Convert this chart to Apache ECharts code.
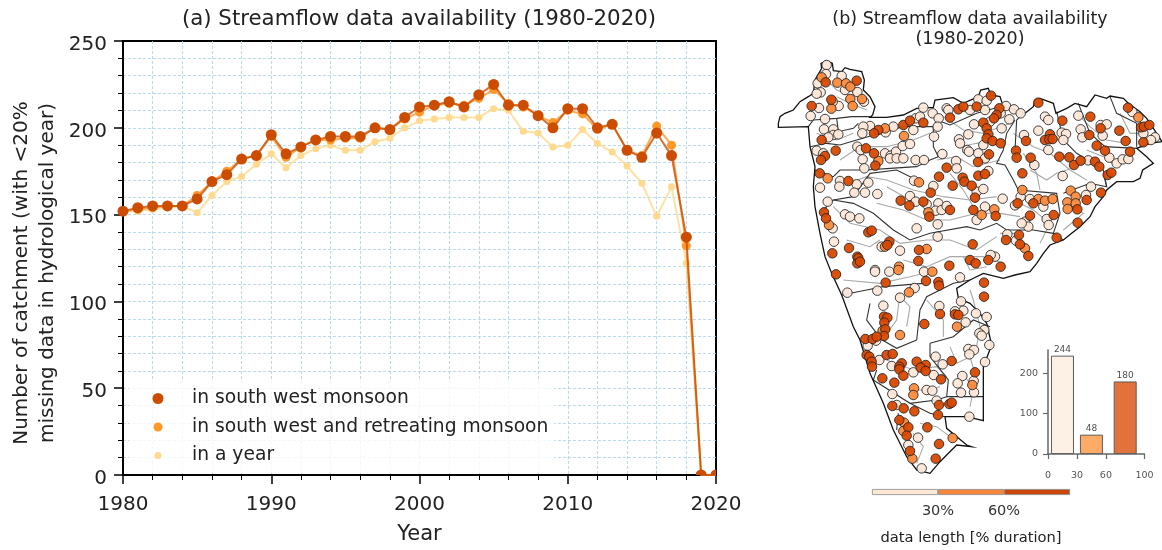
<!DOCTYPE html>
<html><head><meta charset="utf-8">
<style>html,body{margin:0;padding:0;background:#fff}#c{width:1162px;height:550px}</style>
<script src="https://cdn.jsdelivr.net/npm/echarts@6/dist/echarts.min.js"></script>
</head><body><div id="c"></div>
<script>
const years=[1980,1981,1982,1983,1984,1985,1986,1987,1988,1989,1990,1991,1992,1993,1994,1995,1996,1997,1998,1999,2000,2001,2002,2003,2004,2005,2006,2007,2008,2009,2010,2011,2012,2013,2014,2015,2016,2017,2018,2019,2020];
const swMonsoon=[152,154,155,155,155,159,169,173,182,184,196,185,189,193,195,195,195,200,199,206,212,213,215,212,219,225,213,213,207,200,211,211,200,202,187,183,197,184,137,0,0];
const swRetreating=[152,153,154,155,155,161,169,175,182,184,195,183,189,193,193,194,194,200,199,205,209,213,214,213,217,222,214,212,207,203,210,208,199,202,187,184,201,190,132,0,0];
const inYear=[152,152,153,154,155,151,161,169,172,179,185,177,184,188,190,187,187,192,194,200,204,205,206,206,206,211,210,198,197,189,190,199,191,186,178,168,149,166,122,0,0];

// Gauge positions (map units; southern lists have their own origin)
const gaugesLowNorth=[[170,195],[168,222],[143,250],[215,228],[262,276],[152,277],[140,281],[282,305],[206,318],[147,324],[122,348],[165,357],[188,305],[225,270],[162,388],[190,388],[190,405],[205,403],[175,412],[140,452],[160,460],[210,543],[208,560],[260,553],[295,548],[150,563],[253,578],[285,578],[322,582],[173,605],[188,685],[192,725],[225,643],[240,650],[268,655],[335,740],[390,752],[300,378],[280,380],[347,397],[370,380],[437,355],[430,390],[277,400],[262,440],[272,450],[278,478],[283,505],[345,460],[362,467],[378,455],[398,438],[420,432],[360,475],[380,475],[400,475],[437,480],[462,480],[460,323],[450,350],[488,340],[506,355],[503,380],[492,410],[530,325],[535,330],[600,330],[625,298],[650,302],[645,330],[692,340],[708,318],[732,328],[752,340],[718,358],[612,373],[660,365],[695,385],[595,403],[567,418],[570,430],[592,450],[640,435],[597,455],[625,460],[645,475],[517,462],[558,483],[560,505],[432,542],[490,558],[620,575],[640,567],[655,513],[420,588],[437,605],[470,613],[505,610],[497,632],[515,630],[530,618],[645,620],[620,660],[440,685],[503,673],[503,710],[675,770],[662,765],[315,810],[825,350],[835,360],[925,347],[805,392],[875,398],[888,402],[880,420],[835,450],[762,405],[793,495],[955,481],[932,388],[937,412],[992,375],[1010,373],[998,407],[1018,473],[1040,490],[1058,478],[1075,477],[878,528],[1087,336],[1120,400],[1155,412],[1143,420],[698,596],[752,590],[780,597],[735,616],[820,620],[830,657],[765,665],[775,680],[755,670],[836,675],[963,560],[948,585],[712,703],[738,722]];
const gaugesMidNorth=[[155,232],[202,248],[228,250],[241,260],[276,297],[241,297],[248,318],[184,326],[173,535],[177,675],[345,740],[345,385],[402,408],[325,483],[447,547],[475,637],[635,645],[673,628],[470,747],[387,800],[757,570],[805,597],[825,602],[848,597],[902,572],[892,607],[917,590],[917,610],[893,627],[1105,352],[765,745]];
const gaugesHighNorth=[[167,247],[260,242],[184,299],[125,318],[155,420],[197,452],[165,468],[153,480],[149,520],[235,543],[162,637],[168,655],[187,760],[237,744],[295,697],[305,692],[358,725],[352,735],[262,770],[265,775],[262,790],[270,785],[325,390],[312,400],[400,375],[420,362],[460,368],[288,445],[312,460],[316,497],[540,353],[565,328],[580,320],[620,320],[663,287],[688,325],[680,345],[672,355],[640,368],[650,385],[655,403],[650,415],[668,423],[692,430],[657,463],[624,486],[530,503],[507,530],[578,533],[583,545],[605,557],[548,557],[482,578],[625,527],[645,522],[615,593],[392,602],[418,617],[460,605],[540,630],[478,650],[610,630],[677,648],[608,733],[447,750],[445,783],[655,780],[600,780],[617,790],[692,800],[538,797],[805,308],[877,362],[961,350],[840,403],[825,420],[838,418],[848,417],[768,423],[738,452],[740,473],[782,473],[757,520],[868,470],[898,472],[912,495],[932,482],[975,485],[988,500],[958,405],[992,385],[980,437],[1005,452],[1048,392],[1067,423],[1080,455],[1013,525],[1024,518],[1074,323],[1113,382],[1122,380],[1138,375],[1120,427],[790,610],[743,610],[780,647],[851,645],[950,600],[922,628],[993,578],[923,668],[860,713],[708,720],[747,705],[750,733],[775,768]];
const gaugesLowSouth=[[232,68],[315,5],[358,5],[322,62],[390,83],[434,54],[462,5],[570,22],[508,108],[573,94],[580,122],[555,124],[618,130],[650,141],[587,157],[340,107],[318,212],[293,227],[643,180],[628,190],[635,197],[658,225],[595,237],[612,240],[598,253],[328,270],[497,260],[645,276],[518,283],[365,288],[430,307],[491,315],[577,318],[611,333],[563,340],[470,360],[487,362],[573,368],[612,367],[367,372],[380,405],[500,392],[598,440],[444,503],[415,525],[455,595]];
const gaugesMidSouth=[[385,0],[417,67],[487,5],[561,170],[338,182],[390,195],[607,345],[432,355],[430,375],[402,458],[400,483],[548,504],[427,566]];
const gaugesHighSouth=[[198,13],[347,38],[468,33],[505,36],[507,47],[642,38],[642,80],[510,132],[555,133],[565,135],[463,162],[342,140],[352,143],[343,158],[346,178],[342,198],[286,207],[308,207],[320,200],[290,255],[298,260],[350,255],[368,252],[305,275],[395,280],[545,273],[440,275],[467,285],[452,293],[467,303],[306,290],[388,290],[388,298],[400,317],[513,328],[615,307],[337,325],[373,338],[367,408],[401,415],[433,424],[507,405],[538,402],[545,398],[504,435],[388,450],[415,472],[410,497],[472,472],[507,522],[420,543],[497,566]];

// Outlines
const outerBoundary=[[25,370],[30,350],[45,340],[70,330],[90,305],[115,290],[130,280],[135,240],[155,205],[153,190],[170,183],[187,190],[190,212],[215,215],[225,203],[240,208],[275,215],[283,240],[280,270],[300,290],[315,320],[308,345],[300,352],[350,352],[400,345],[440,325],[490,322],[495,300],[550,293],[580,310],[625,290],[632,270],[655,265],[662,285],[690,290],[700,320],[740,330],[765,340],[790,320],[795,300],[810,295],[850,310],[858,340],[890,325],[915,310],[950,320],[975,285],[1010,295],[1020,288],[1060,295],[1075,310],[1110,335],[1130,355],[1150,385],[1176,425],[1140,430],[1100,445],[1130,470],[1150,490],[1118,510],[1110,535],[1090,545],[1040,545],[1010,570],[1000,590],[975,620],[960,650],[930,680],[905,700],[880,720],[840,735],[820,760],[800,790],[780,815],[735,825],[700,835],[640,820],[600,840],[560,865],[565,895],[600,910],[630,940],[650,970],[665,1035],[640,1100],[640,1190],[640,1262],[590,1250],[525,1250],[530,1285],[590,1335],[605,1340],[560,1335],[545,1350],[510,1385],[480,1420],[440,1410],[410,1370],[370,1290],[340,1210],[300,1120],[270,1020],[250,980],[215,885],[185,820],[165,770],[150,700],[135,620],[130,560],[135,500],[120,440],[115,380],[25,382],[25,370]];
const basinLines=[
[[115,380],[130,360],[200,355],[245,350],[300,350]],
[[200,355],[205,395],[250,385],[265,370]],
[[120,440],[170,430],[210,435],[260,420],[330,400],[400,380],[490,380],[500,360],[540,375],[620,340],[690,320]],
[[490,380],[490,440],[505,470],[480,480],[440,500],[360,505],[290,510],[210,510],[190,530],[135,510]],
[[735,360],[710,400],[700,450],[680,490],[705,495],[730,540],[745,570],[860,580],[870,640],[850,700]],
[[440,540],[380,510],[300,520],[250,590],[190,600],[150,640]],
[[190,600],[250,610],[310,640],[370,690],[420,720],[480,700],[590,680],[630,690],[680,670],[710,690],[790,690],[850,700],[880,720]],
[[880,580],[960,550],[1010,560],[1000,520]],
[[760,340],[740,360],[735,450]],
[[860,335],[880,420],[920,460],[1000,510],[1010,560]],
[[925,310],[960,400],[1005,440],[1100,445]],
[[1020,290],[1040,340],[1100,370],[1100,440]],
[[215,885],[290,870],[340,860],[460,850]],
[[300,910],[290,960],[320,1000]],
[[440,1020],[450,930],[470,890],[550,850],[600,840]],
[[440,1020],[380,1045],[320,1010]],
[[480,1030],[550,1010],[610,960],[660,980]],
[[480,1030],[480,1070],[535,1140],[530,1190],[640,1190]],
[[320,1110],[310,1140],[420,1210],[500,1200],[530,1190]],
[[420,1210],[480,1240],[525,1250]],
[[385,1240],[380,1290]]];
const riverLines=[
[[200,290],[240,310],[290,330]],[[140,400],[200,420],[250,400]],[[170,240],[200,270],[250,290]],
[[210,480],[270,440],[350,440],[430,420],[480,400]],[[520,350],[580,390],[640,400],[720,370]],[[570,440],[620,430],[690,420]],
[[500,480],[560,470],[610,500],[690,480]],[[210,560],[290,530],[350,540],[430,570],[520,590],[600,600],[680,590]],
[[320,610],[400,630],[470,660],[540,660],[620,640],[690,640],[750,650]],[[350,560],[420,600],[470,620]],[[540,520],[580,570],[610,620],[640,650]],
[[730,400],[790,440],[840,460],[900,510],[950,540]],[[780,510],[830,540],[860,520],[920,500]],[[760,460],[800,520],[810,570]],
[[920,340],[960,380],[1010,420],[1070,430]],[[1040,500],[1000,470],[950,450]],[[1050,340],[1080,400],[1130,400]],
[[190,620],[240,670],[330,690],[390,730],[470,720],[540,720],[620,750],[680,710]],[[230,720],[300,740],[330,720]],
[[730,600],[790,630],[840,670],[810,730]],[[900,620],[940,640],[880,690]],[[690,700],[740,700],[770,750]],
[[400,780],[470,800],[540,770],[640,770],[700,790]],[[220,840],[330,850],[420,830],[500,810]],[[580,770],[600,810],[650,800]],
[[390,880],[380,960],[350,1000]],[[470,900],[520,960],[520,1010]],[[600,870],[610,900],[630,980],[620,1040]],[[380,880],[420,920],[410,980]],
[[540,1040],[560,1090],[600,1070],[620,1140]],[[350,1080],[430,1110],[500,1100],[530,1130]],[[580,1120],[610,1170],[600,1220]],
[[420,1170],[470,1170],[510,1160]],[[450,1270],[500,1280],[540,1310]],[[430,1300],[460,1340],[440,1390]]];

const hist=[[15,244],[45,48],[80,180]];
const histColors=['#fdf0e4','#fda75f','#e06a30'];
const cbarSegments=[1,1,1];
const cbarColors=['#fde8d6','#f5863a','#c9470b'];

const DJ='DejaVu Sans';
const south=p=>[p[0],p[1]+810];
const scat=(data,color,name)=>({type:'scatter',name,xAxisIndex:1,yAxisIndex:1,data,symbolSize:9.5,silent:true,z:6,
  itemStyle:{color,borderColor:'#222',borderWidth:0.9,opacity:0.95}});
const ln=(data,color,width)=>({type:'lines',coordinateSystem:'cartesian2d',xAxisIndex:1,yAxisIndex:1,polyline:true,silent:true,z:3,
  data:data.map(c=>({coords:c})),lineStyle:{color,width,opacity:1}});
// markers lying on the frame are cut off by it: half a disc on the x axis, a quarter in the corner
const halfDisc='path://M0 10a10 10 0 0 1 20 0z', quarterDisc='path://M10 10L0 10a10 10 0 0 1 10 -10z';
const yr=(name,vals,color,size,z,alpha)=>({type:'line',name,xAxisIndex:0,yAxisIndex:0,color,
  data:years.map((y,i)=>{
    if(y===2020) return {value:[y,vals[i]],symbol:quarterDisc,symbolSize:[size/2,size/2],symbolOffset:[-size/4,-size/4]};
    if(vals[i]===0) return {value:[y,vals[i]],symbol:halfDisc,symbolSize:[size,size/2],symbolOffset:[0,-size/4]};
    return [y,vals[i]];}),
  symbol:'circle',symbolSize:size,z,clip:false,showSymbol:true,showAllSymbol:true,silent:true,
  lineStyle:{color,width:2,opacity:alpha},itemStyle:{color}});
const dot=r=>`path://M0 0M58 18M${29-r} 9a${r} ${r} 0 1 0 ${2*r} 0a${r} ${r} 0 1 0 ${-2*r} 0z`;
const gridStyle={show:true,showMinLine:false,showMaxLine:false,lineStyle:{color:'#a9d2e8',type:[3,2],width:1,opacity:0.8}};

const option={
 animation:false,backgroundColor:'#fff',textStyle:{fontFamily:DJ},
 title:[
  {text:'(a) Streamflow data availability (1980-2020)',left:414,textAlign:'center',top:4,textStyle:{fontFamily:DJ,fontSize:21.3,fontWeight:'normal',color:'#222'}},
  {text:'(b) Streamflow data availability\n(1980-2020)',left:965,textAlign:'center',top:4,textStyle:{fontFamily:DJ,fontSize:17.5,fontWeight:'normal',color:'#222',lineHeight:20}}
 ],
 legend:{orient:'vertical',left:129,top:381,padding:[8,6,8,0],itemGap:9.5,itemWidth:58,itemHeight:18,symbolKeepAspect:false,
  backgroundColor:'rgba(255,255,255,0.8)',selectedMode:false,textStyle:{fontFamily:DJ,fontSize:18.7,color:'#222',lineHeight:18},
  data:[{name:'in south west monsoon',icon:dot(5.5)},{name:'in south west and retreating monsoon',icon:dot(4.5)},{name:'in a year',icon:dot(3.5)}],z:5},
 grid:[
  {left:123,top:41,width:593,height:438,show:true,borderColor:'#000',borderWidth:2,backgroundColor:'#fff'},
  {left:770,top:0,width:392,height:550,show:false},
  {left:1048,top:350,width:96.5,height:104,show:false},
  {left:872,top:489,width:198,height:6,show:false}
 ],
 xAxis:[
  {type:'value',gridIndex:0,min:1980,max:2020,interval:10,
   axisLine:{lineStyle:{color:'#000',width:2}},
   axisTick:{length:9,lineStyle:{color:'#000',width:1.5}},
   minorTick:{show:true,splitNumber:5,length:5,lineStyle:{color:'#000',width:1}},
   axisLabel:{fontFamily:DJ,fontSize:20,color:'#222',margin:20,formatter:v=>String(v),hideOverlap:false,showMinLabel:true,showMaxLabel:true},
   splitLine:gridStyle,minorSplitLine:gridStyle,
   name:'Year',nameLocation:'middle',nameGap:49,nameTextStyle:{fontFamily:DJ,fontSize:21,color:'#222'}},
  {type:'value',gridIndex:1,min:0,max:1176,show:false,splitLine:{show:false}},
  {type:'value',gridIndex:2,min:0,max:100,z:7,
   axisLine:{lineStyle:{color:'#666',width:1.5}},
   axisTick:{customValues:[0,30,60,100],length:5,lineStyle:{color:'#666',width:1.2}},
   axisLabel:{customValues:[0,30,60,100],fontFamily:DJ,fontSize:9.5,color:'#555',margin:17,showMinLabel:true,showMaxLabel:true},
   splitLine:{show:false}},
  {type:'value',gridIndex:3,min:0,max:3,interval:1,
   axisLine:{show:false},axisTick:{show:false},splitLine:{show:false},
   axisLabel:{fontFamily:DJ,fontSize:14.5,color:'#333',margin:9,formatter:v=>v===1?'30%':v===2?'60%':''},
   name:'data length [% duration]',nameLocation:'middle',nameGap:36,nameTextStyle:{fontFamily:DJ,fontSize:14.7,color:'#222'}}
 ],
 yAxis:[
  {type:'value',gridIndex:0,min:0,max:250,interval:50,
   axisLine:{show:true,lineStyle:{color:'#000',width:2}},
   axisTick:{show:true,length:9,lineStyle:{color:'#000',width:1.5}},
   minorTick:{show:true,splitNumber:5,length:5,lineStyle:{color:'#000',width:1}},
   axisLabel:{fontFamily:DJ,fontSize:20,color:'#222',margin:16,verticalAlign:'top',lineHeight:7},
   splitLine:gridStyle,minorSplitLine:gridStyle},
  {type:'value',gridIndex:1,min:0,max:1650,inverse:true,show:false,splitLine:{show:false}},
  {type:'value',gridIndex:2,min:0,max:258,z:7,
   axisLine:{show:true,lineStyle:{color:'#666',width:1.5}},
   axisTick:{show:true,customValues:[0,100,200],length:5,lineStyle:{color:'#666',width:1.2}},
   axisLabel:{customValues:[0,100,200],fontFamily:DJ,fontSize:9.5,color:'#555',margin:10},
   splitLine:{show:false}},
  {type:'category',gridIndex:3,data:['c'],show:false}
 ],
 graphic:[
  {type:'text',z:9,silent:true,x:35,y:273,rotation:Math.PI/2,style:{text:'Number of catchment (with <20%\nmissing data in hydrological year)',fontFamily:DJ,fontSize:20,lineHeight:26,fill:'#222',align:'center',verticalAlign:'middle'}}
 ],
 series:[
  yr('in a year',inYear,'#fed98e',7,2,0.8),
  yr('in south west and retreating monsoon',swRetreating,'#fe9929',9,3,0.8),
  yr('in south west monsoon',swMonsoon,'#cc4c02',11,4,0.8),
  ln(riverLines,'#a8a8a8',1.1),
  ln(basinLines,'#333',1.1),
  ln([outerBoundary],'#111',1.3),
  scat(gaugesLowNorth.concat(gaugesLowSouth.map(south)),'#fde8d9','low'),
  scat(gaugesMidNorth.concat(gaugesMidSouth.map(south)),'#fb8a3c','mid'),
  scat(gaugesHighNorth.concat(gaugesHighSouth.map(south)),'#d94801','high'),
  {type:'bar',xAxisIndex:2,yAxisIndex:2,barWidth:23,barGap:'-100%',silent:true,data:hist.map((d,i)=>({value:d,itemStyle:{color:histColors[i],borderColor:'#555',borderWidth:1,opacity:0.95}})),
   label:{show:true,position:'top',distance:1,fontFamily:DJ,fontSize:9,color:'#444',formatter:p=>String(p.value[1])}},
  ...cbarSegments.map((v,i)=>({type:'bar',stack:'cb',barWidth:6,xAxisIndex:3,yAxisIndex:3,silent:true,data:[v],
    itemStyle:{color:cbarColors[i],borderColor:'#888',borderWidth:0.8}}))
 ]
};
const chart=echarts.init(document.getElementById('c'),null,{renderer:'canvas'});
chart.setOption(option);
</script></body></html>
